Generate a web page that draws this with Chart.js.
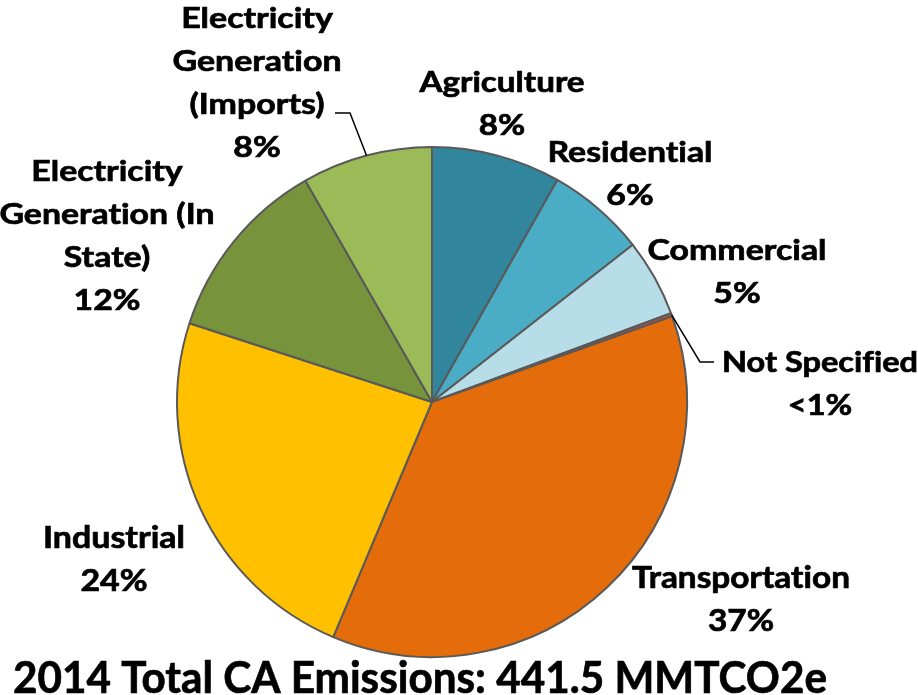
<!DOCTYPE html>
<html>
<head>
<meta charset="utf-8">
<script src="https://cdn.jsdelivr.net/npm/chart.js@4.4.1/dist/chart.umd.min.js"></script>
<style>
  html, body { margin: 0; padding: 0; background: #ffffff; }
  #wrap { width: 918px; height: 695px; position: relative; }
</style>
</head>
<body>
<div id="wrap"><canvas id="c" width="918" height="695"></canvas></div>
<script>
// ---- Data (MMTCO2e, 2014), clockwise from 12 o'clock ----
const categories = ['Agriculture', 'Residential', 'Commercial', 'Not Specified',
  'Transportation', 'Industrial', 'Electricity Generation (In State)', 'Electricity Generation (Imports)'];
const emissions = [36.1, 27.6, 21.7, 0.9, 162.4, 104.5, 51.8, 36.5];
const percentLabels = ['8%', '6%', '5%', '<1%', '37%', '24%', '12%', '8%'];
const labelLines = [
  ['Agriculture'], ['Residential'], ['Commercial'], ['Not Specified'],
  ['Transportation'], ['Industrial'],
  ['Electricity', 'Generation (In', 'State)'],
  ['Electricity', 'Generation', '(Imports)']
];
const totalTitle = '2014 Total CA Emissions: 441.5 MMTCO2e';

// ---- Styles / layout ----
const sliceColors = ['#31859C', '#4BACC6', '#B7DEE8', '#C0504D', '#E46C0A', '#FFC000', '#77933C', '#9BBB59'];
const FONT = 'Lato, "Open Sans", sans-serif';
// label block: center x, first baseline y, font size, width of widest line, leader elbow
const labelLayout = [
  { x: 502, y: 92,  size: 29, w: 165 },
  { x: 630, y: 162, size: 29, w: 165 },
  { x: 737, y: 260, size: 29, w: 179 },
  { x: 820, y: 372, size: 29, w: 196, leader: [[700, 362], [714, 362]] },
  { x: 741, y: 588, size: 30, w: 218 },
  { x: 114, y: 548, size: 30, w: 142 },
  { x: 107, y: 181, size: 29, w: 215 },
  { x: 257, y: 28,  size: 29, w: 169, leader: [[350, 113], [335, 113]] }
];
const LINE_GAP = 43;
const titleLayout = { x: 420, y: 693, size: 43, w: 814 };

function drawScaledText(ctx, text, x, y, scaleX) {
  ctx.save();
  ctx.translate(x, y);
  ctx.scale(scaleX, 1);
  ctx.lineWidth = 0.7;
  ctx.strokeText(text, 0, 0);
  ctx.fillText(text, 0, 0);
  ctx.restore();
}

const labelPlugin = {
  id: 'pieLabels',
  afterDraw(chart) {
    const ctx = chart.ctx;
    const meta = chart.getDatasetMeta(0);
    ctx.save();
    ctx.fillStyle = '#000000';
    ctx.strokeStyle = '#000000';
    ctx.textAlign = 'center';
    ctx.textBaseline = 'alphabetic';
    if ('letterSpacing' in ctx) ctx.letterSpacing = '0.01px';
    meta.data.forEach((arc, i) => {
      const L = labelLayout[i];
      const lines = labelLines[i].concat([percentLabels[i]]);
      ctx.font = 'bold ' + L.size + 'px ' + FONT;
      let maxW = 0;
      lines.forEach(t => { maxW = Math.max(maxW, ctx.measureText(t).width); });
      const sx = L.w / maxW;
      lines.forEach((t, k) => drawScaledText(ctx, t, L.x, L.y + k * LINE_GAP, sx));
      if (L.leader) {
        const p = arc.getProps(['x', 'y', 'startAngle', 'endAngle', 'outerRadius'], true);
        const mid = (p.startAngle + p.endAngle) / 2;
        const sx0 = p.x + Math.cos(mid) * p.outerRadius;
        const sy0 = p.y + Math.sin(mid) * p.outerRadius;
        ctx.beginPath();
        ctx.lineWidth = 1.5;
        ctx.moveTo(sx0, sy0);
        L.leader.forEach(pt => ctx.lineTo(pt[0], pt[1]));
        ctx.stroke();
      }
    });
    // title
    ctx.font = 'bold ' + titleLayout.size + 'px ' + FONT;
    const tw = ctx.measureText(totalTitle).width;
    drawScaledText(ctx, totalTitle, titleLayout.x, titleLayout.y, titleLayout.w / tw);
    ctx.restore();
  }
};

new Chart(document.getElementById('c'), {
  type: 'pie',
  data: {
    labels: categories,
    datasets: [{
      data: emissions,
      backgroundColor: sliceColors,
      borderColor: '#595959',
      borderWidth: 2
    }]
  },
  options: {
    responsive: false,
    animation: false,
    rotation: 0,
    layout: { padding: { left: 176, right: 230, top: 146, bottom: 37 } },
    plugins: {
      legend: { display: false },
      title: { display: false },
      tooltip: { enabled: false }
    }
  },
  plugins: [labelPlugin]
});
</script>
</body>
</html>
